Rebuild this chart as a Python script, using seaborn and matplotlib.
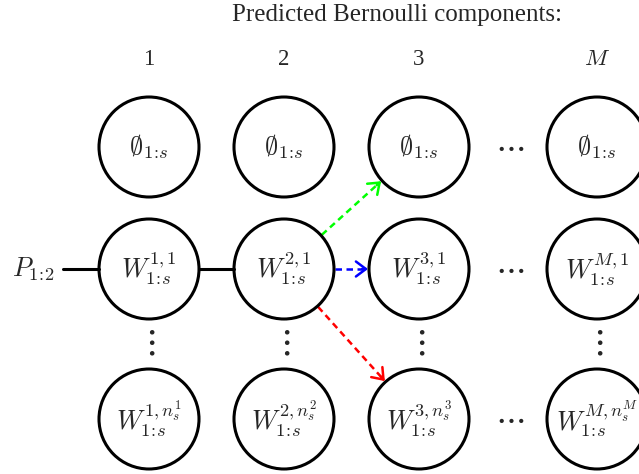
import numpy as np
import matplotlib

matplotlib.use("Agg")
import matplotlib.pyplot as plt
from matplotlib.patches import Circle
import seaborn as sns


TITLE = "Predicted Bernoulli components:"
COLUMN_IDS = ["1", "2", "3", "M"]
COLUMN_HEADERS = ["1", "2", "3", "$M$"]
INPUT_LABEL = r"$P_{1\!:\!2}$"
ARROW_TARGET_ROWS = [0, 1, 2]
ARROW_COLORS = ["#00ff00", "#0000ff", "#ff0000"]

SUB = r"1\!:\!s"


def node_label(row: int, col_id: str) -> str:
    if row == 0:
        return rf"$\emptyset_{{{SUB}}}$"
    if row == 1:
        return rf"$W^{{{col_id},1}}_{{{SUB}}}$"
    return rf"$W^{{{col_id},n^{{{col_id}}}_s}}_{{{SUB}}}$"


def main() -> None:
    sns.set_theme(style="white")
    plt.rcParams["font.family"] = ["Liberation Serif", "DejaVu Serif"]
    plt.rcParams["mathtext.fontset"] = "cm"

    col_x = [149, 284, 419, 597]
    row_y = [147, 269, 419]
    radius = 50
    dots_x = 510

    fig = plt.figure(figsize=(6.39, 4.74), dpi=100)
    ax = fig.add_axes([0, 0, 1, 1])
    ax.set_xlim(0, 639)
    ax.set_ylim(474, 0)
    ax.set_aspect("equal")
    ax.axis("off")

    ax.text(397, 15, TITLE, ha="center", va="center", fontsize=18)
    for x, header in zip(col_x, COLUMN_HEADERS):
        ax.text(x, 59, header, ha="center", va="center", fontsize=16.5)

    for c, (x, col_id) in enumerate(zip(col_x, COLUMN_IDS)):
        for r, y in enumerate(row_y):
            ax.add_patch(Circle((x, y), radius, fill=False, lw=2.2, ec="black", zorder=3))
            ax.text(x, y, node_label(r, col_id), ha="center", va="center", fontsize=19)
        ax.text(x, 344, r"$\vdots$", ha="center", va="center", fontsize=26)

    for y in row_y:
        ax.text(dots_x, y, r"$\cdots$", ha="center", va="center", fontsize=24)

    # input label and solid links along the middle row
    ax.text(33, row_y[1], INPUT_LABEL, ha="center", va="center", fontsize=19)
    ax.plot([63, col_x[0] - radius], [row_y[1], row_y[1]], color="black", lw=2.2)
    ax.plot([col_x[0] + radius, col_x[1] - radius], [row_y[1], row_y[1]], color="black", lw=2.2)

    # dashed arrows from component 2 to component 3
    src = np.array([col_x[1], row_y[1]], dtype=float)
    for target_row, color in zip(ARROW_TARGET_ROWS, ARROW_COLORS):
        dst = np.array([col_x[2], row_y[target_row]], dtype=float)
        unit = (dst - src) / np.linalg.norm(dst - src)
        start = src + unit * (radius + 1)
        end = dst - unit * (radius + 1)
        ax.plot([start[0], end[0] - unit[0] * 4], [start[1], end[1] - unit[1] * 4],
                color=color, lw=1.8, dashes=(2.6, 1.8))
        ax.annotate(
            "",
            xy=end,
            xytext=end - unit * 6,
            arrowprops=dict(arrowstyle="->,head_length=0.6,head_width=0.45",
                            color=color, lw=1.8, shrinkA=0, shrinkB=0),
        )

    fig.savefig("out.png", dpi=100)


if __name__ == "__main__":
    main()
